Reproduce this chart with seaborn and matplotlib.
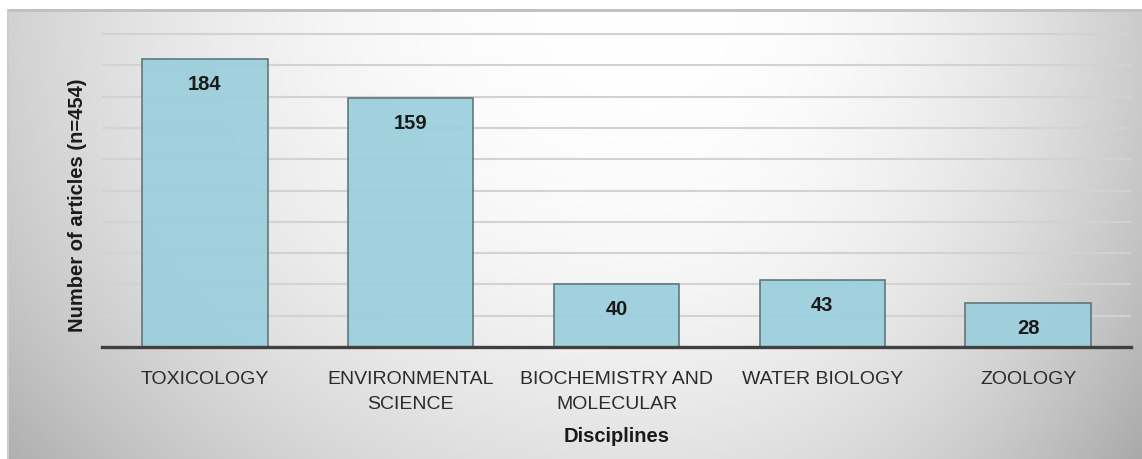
import textwrap

import matplotlib
matplotlib.use("Agg")
import matplotlib.pyplot as plt
import numpy as np
import seaborn as sns

# Article counts per discipline
categories = ["TOXICOLOGY", "ENVIRONMENTAL SCIENCE", "BIOCHEMISTRY AND MOLECULAR",
              "WATER BIOLOGY", "ZOOLOGY"]
counts = [184, 159, 40, 43, 28]
y_label = "Number of articles (n=454)"
x_label = "Disciplines"

sns.set_style("white")
plt.rcParams["font.family"] = ["Liberation Sans", "DejaVu Sans"]

W, H = 1142, 460
fig = plt.figure(figsize=(W / 100, H / 100), dpi=100)

# Soft radial grey backdrop with a thin frame line on the top and left
bg = fig.add_axes([0, 0, 1, 1])
bg.set_axis_off()
yy, xx = np.mgrid[0:H, 0:W]
cx, cy = 650, 10
rx = np.where(xx < cx, 720.0, 520.0)
r = np.sqrt(((xx - cx) / rx) ** 2 + ((yy - cy) / 620.0) ** 2)
val = 1 - 0.23 * np.clip(r, 0, 1.2) ** 2.2
val[(yy >= 10) & (yy < 13) & (xx >= 7)] = 0.76
val[(xx >= 7) & (xx < 9) & (yy >= 10)] = 0.80
val[yy < 10] = 1.0
val[xx < 7] = 1.0
bg.imshow(np.dstack([val, val, val]), extent=[0, 1, 0, 1], aspect="auto",
          interpolation="bilinear", origin="upper")
bg.set_xlim(0, 1)
bg.set_ylim(0, 1)

# Plot area
ymax = 201
base_px, top200_px = 348, 35
top_px = base_px - ymax * (base_px - top200_px) / 200
ax = fig.add_axes([102 / W, (H - base_px) / H, 1029 / W, (base_px - top_px) / H])
ax.patch.set_alpha(0)

labels = [textwrap.fill(c, 16) for c in categories]
sns.barplot(x=labels, y=counts, color="#9ccfdd", edgecolor="#5d6e74",
            linewidth=1.2, width=0.61, alpha=0.93, saturation=1, ax=ax)

ax.set_ylim(0, ymax)
ax.set_xlim(-0.5, len(categories) - 0.5)
ax.set_yticks(range(0, 201, 20))
ax.yaxis.grid(True, color="#d2d2d2", linewidth=1.5)
ax.set_axisbelow(True)
ax.tick_params(axis="y", length=0, labelleft=False)
ax.tick_params(axis="x", length=0, pad=16.5)
ax.set_xticks(range(len(labels)), labels, fontsize=14, color="#2b2b2b",
              linespacing=1.6, va="top")

for side in ("top", "right", "left"):
    ax.spines[side].set_visible(False)
ax.spines["bottom"].set_color("#404040")
ax.spines["bottom"].set_linewidth(2.4)

for i, v in enumerate(counts):
    ax.annotate(f"{v}", (i, v), xytext=(0, -17.5), textcoords="offset points",
                ha="center", va="center", fontsize=14.5, fontweight="bold",
                color="#1a1a1a")

ax.set_xlabel(x_label, fontsize=14.5, fontweight="bold", color="#1a1a1a", va="center")
ax.xaxis.set_label_coords(0.5, (base_px - 437) / (base_px - top_px))
ax.set_ylabel(y_label, fontsize=14.5, fontweight="bold", color="#1a1a1a", va="center")
ax.yaxis.set_label_coords((78 - 102) / 1029, (base_px - 205) / (base_px - top_px))

fig.savefig("out.png", dpi=100)
